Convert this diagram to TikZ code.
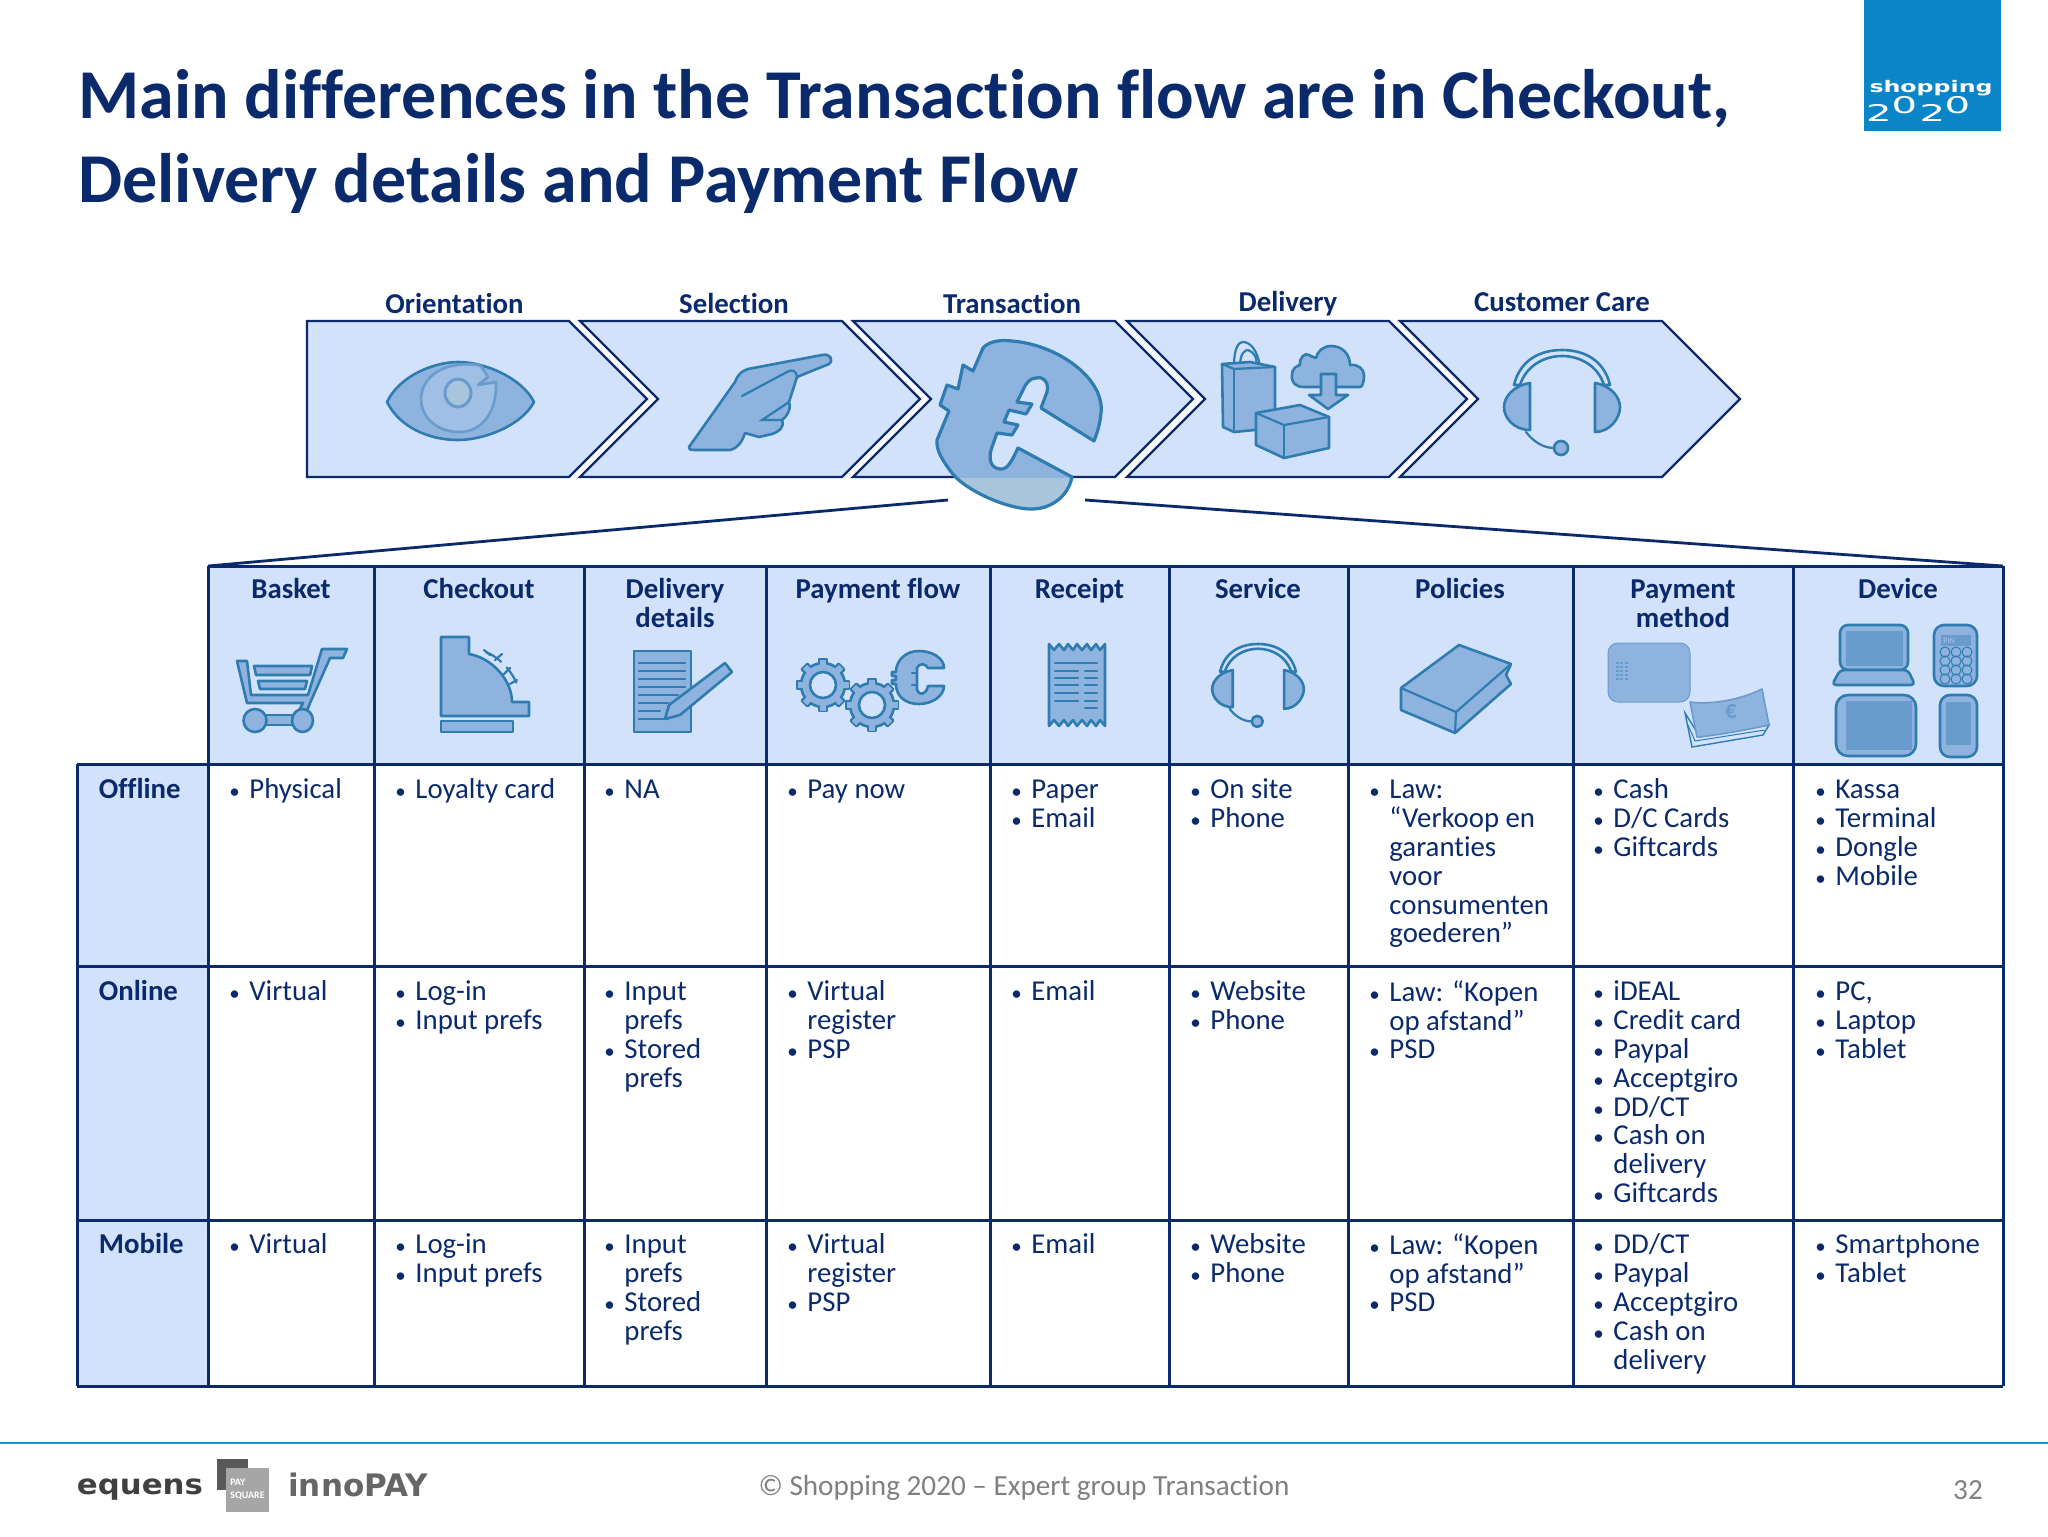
\documentclass[tikz,border=0pt]{standalone}
\usepackage{fontspec}
\setmainfont[Ligatures=NoCommon]{Carlito}
\newfontfamily\logofont{DejaVu Sans}
\definecolor{navy}{HTML}{0B2A6B}
\definecolor{paleblue}{HTML}{D3E2FB}
\definecolor{iconfill}{HTML}{8EB3DE}
\definecolor{iconfillb}{HTML}{A8C5DC}
\definecolor{iconline}{HTML}{2E7CB0}
\definecolor{icondark}{HTML}{6A9BCD}
\definecolor{logoblue}{HTML}{0A86C8}
\definecolor{footline}{HTML}{1F8FD0}
\newcommand\bu{\leavevmode\rule{0pt}{10pt}\llap{{\fontsize{10.5}{10}\selectfont •}\hspace{4.8pt}}}
\newcommand\nb{\rule{0pt}{10pt}}
\tikzset{
 icon/.style={draw=iconline,fill=iconfill,line width=1.3pt,line join=round},
 iconthin/.style={draw=iconline,line width=1.1pt,line cap=round},
 iconsoft/.style={draw=icondark,fill=iconfill,line width=.8pt,line join=round},
 chev/.style={draw=navy,fill=paleblue,line width=1.1pt,line join=miter},
 grid/.style={draw=navy,line width=1.5pt},
 celltext/.style={anchor=north west,inner sep=0pt,align=left,text=navy,font=\fontsize{14.4}{14.45}\selectfont},
 rowlabel/.style={anchor=north west,inner sep=0pt,align=left,text=navy,font=\fontsize{14.4}{14.45}\selectfont\bfseries},
 headtext/.style={anchor=north,inner sep=0pt,align=center,text=navy,font=\fontsize{14.4}{14.45}\selectfont\bfseries},
 steplabel/.style={anchor=base,inner sep=0pt,text=navy,font=\fontsize{14.4}{14.45}\selectfont\bfseries},
 titletext/.style={anchor=base west,inner sep=0pt,text=navy,font=\fontsize{35}{36}\selectfont\bfseries},
}
\newcommand\chevron[1]{\draw[chev] (#1,321) -- ++(262,0) -- ++(78,78) -- ++(-78,78) -- ++(-262,0) -- ++(78,-78) -- cycle;}
\newcommand\bigeuro{(983,348) .. controls (990,340) and (1003,340) .. (1012,341)
 .. controls (1060,345) and (1105,380) .. (1101,413) .. controls (1100,425) and (1097,433) .. (1094,441)
 -- (1041,408) -- (1047,392) .. controls (1050,380) and (1040,376) .. (1036,378) .. controls (1030,378) and (1026,383) .. (1023,390)
 -- (1017,402) -- (1032,404) -- (1026,414) -- (1009,410) -- (1004,422) -- (1018,425) -- (1012,435) -- (997,433) -- (992,447)
 .. controls (988,458) and (990,468) .. (1000,469) .. controls (1008,470) and (1012,460) .. (1018,448)
 -- (1072,477) .. controls (1068,497) and (1050,510) .. (1029,509) .. controls (1005,508) and (965,490) .. (952,473)
 .. controls (942,460) and (936,450) .. (937,440) -- (949,411) -- (940,405) -- (947,385) -- (958,389) -- (963,365) -- (973,371) -- cycle}
\newcommand\headset[3]{\begin{scope}[shift={(#1,#2)},scale=#3]
 \draw[icon,fill=paleblue] (-48,35) .. controls (-42,10) and (-22,0) .. (0,0) .. controls (22,0) and (42,10) .. (48,35)
   -- (42,35) .. controls (36,16) and (18,6) .. (0,6) .. controls (-18,6) and (-36,16) .. (-42,35) -- cycle;
 \draw[icon] (-32,33) .. controls (-50,36) and (-58,48) .. (-58,57) .. controls (-58,68) and (-48,80) .. (-32,80) -- cycle;
 \draw[icon] (33,33) .. controls (50,36) and (58,48) .. (58,57) .. controls (58,68) and (48,82) .. (33,82) -- cycle;
 \draw[iconthin] (-36,82) .. controls (-30,90) and (-20,98) .. (-8,98);
 \draw[icon] (-1,98) ellipse (7 and 7);
\end{scope}}
\newcommand\gearicon[3]{\begin{scope}[shift={(#1,#2)}]
 \foreach \a in {0,45,...,315}{\draw[icon,rotate=\a] (-4,{-#3}) rectangle (4,{-#3+8});}
 \draw[icon] (0,0) circle ({#3-4});
 \foreach \a in {0,45,...,315}{\fill[iconfill,rotate=\a] (-3,{-#3+.5}) rectangle (3,{-#3+9});}
 \draw[icon,fill=paleblue] (0,0) circle ({#3-13});
\end{scope}}
\begin{document}
\begin{tikzpicture}[x=0.5pt,y=-0.5pt]
\useasboundingbox (0,0) rectangle (2048,1536);
% logo
\fill[logoblue] (1864,0) rectangle (2001,131);
\node[inner sep=0pt,text=white,font=\logofont\fontsize{8}{8}\selectfont\bfseries,xscale=1.48] (shop) at (1931,88) {shopping};
\foreach \n/\d/\x/\y in {a/2/1879/112.5,b/0/1904.5/105,c/2/1932.5/112.5,d/0/1957.5/105}{
 \node[inner sep=0pt,text=white,font=\logofont\fontsize{11.5}{11}\selectfont,xscale=1.75] (yr\n) at (\x,\y) {\d};}
% title
\node[titletext] (title1) at (78,118.5) {Main differences in the Transaction flow are in Checkout,};
\node[titletext] (title2) at (78,202) {Delivery details and Payment Flow};
% chevrons
\draw[chev] (307,321) -- (569,321) -- (647,399) -- (569,477) -- (307,477) -- cycle;
\chevron{580}\chevron{853}\chevron{1127}
\draw[chev] (1400,321) -- (1662,321) -- (1740,399) -- (1662,477) -- (1400,477) -- (1478,399) -- cycle;
\node[steplabel] (st1) at (454.5,313) {Orientation};
\node[steplabel] (st2) at (734,313) {Selection};
\node[steplabel] (st3) at (1012,313) {Transaction};
\node[steplabel] (st4) at (1288,311) {Delivery};
\node[steplabel] (st5) at (1562,311) {Customer Care};
% eye
\draw[icon] (387,402) .. controls (400,375) and (435,362) .. (458,362) .. controls (485,362) and (522,378) .. (534,402) .. controls (522,425) and (485,440) .. (458,440) .. controls (430,440) and (400,428) .. (387,402) -- cycle;
\draw[draw=icondark,fill=iconfill!75!paleblue,line width=1.3pt,line join=round] (481,366) .. controls (470,362) and (424,362) .. (421,398) .. controls (421,420) and (440,432) .. (459,432) .. controls (480,432) and (497,415) .. (496,382) -- (478,385) -- (488,377) -- cycle;
\draw[draw=icondark,fill=iconfillb,line width=1.5pt] (458,393) ellipse (13 and 14);
% hand
\draw[icon] (689,447) -- (735,382) .. controls (738,374) and (742,371) .. (748,369) -- (822,355) .. controls (830,353) and (834,360) .. (829,364) -- (797,377)
 -- (789,402) .. controls (792,410) and (785,418) .. (782,420) .. controls (785,428) and (778,432) .. (772,434) -- (759,437) -- (745,433) .. controls (742,442) and (738,448) .. (730,450) -- (695,450) .. controls (690,450) and (688,449) .. (689,447) -- cycle;
\draw[iconthin] (742,396) -- (787,372) .. controls (792,368) and (797,372) .. (797,377);
\draw[iconthin] (789,402) -- (762,420) -- (782,420);
% euro
\fill[iconfill] \bigeuro;
\begin{scope}\clip (900,478) rectangle (1110,520); \fill[iconfillb] \bigeuro; \end{scope}
\draw[iconline,line width=1.6pt,line join=round] \bigeuro;
% delivery icons
\draw[iconthin,fill=none] (1234,366) .. controls (1234,345) and (1240,342) .. (1243,342) .. controls (1250,342) and (1258,350) .. (1260,368);
\draw[iconthin,fill=none] (1240,366) .. controls (1240,352) and (1246,350) .. (1248,350) .. controls (1254,352) and (1258,358) .. (1256,368);
\draw[icon] (1222,364) -- (1250,362) -- (1275,367) -- (1275,428) -- (1234,432) -- (1223,427) -- cycle;
\draw[iconthin] (1222,364) -- (1234,369) -- (1275,367);
\draw[iconthin] (1234,369) -- (1234,432);
\draw[icon] (1304,387) .. controls (1295,387) and (1291,382) .. (1292,375) .. controls (1292,368) and (1297,366) .. (1300,365) .. controls (1299,358) and (1305,352) .. (1309,355) .. controls (1312,356) and (1314,358) .. (1316,358) .. controls (1317,352) and (1323,346) .. (1331,346) .. controls (1342,346) and (1350,354) .. (1350,365) .. controls (1358,364) and (1364,369) .. (1364,375) .. controls (1364,383) and (1362,387) .. (1360,387) -- cycle;
\draw[icon] (1321,374) -- (1336,374) -- (1336,395) -- (1348,395) -- (1328,409) -- (1309,395) -- (1321,395) -- cycle;
\draw[icon] (1256,413) -- (1300,405) -- (1329,417) -- (1329,448) -- (1284,458) -- (1256,445) -- cycle;
\draw[iconthin] (1256,413) -- (1284,425) -- (1329,417);
\draw[iconthin] (1284,425) -- (1284,458);
\headset{1562}{350}{1}
% table fills
\fill[paleblue] (208,566) rectangle (2003,764);
\fill[paleblue] (77,764) rectangle (208,1386);
% fan lines
\coordinate (fanL) at (948,500);
\coordinate (fanR) at (1085,500);
\coordinate (tblL) at (208,566);
\coordinate (tblR) at (2003,566);
\draw[navy,line width=1.4pt] (fanL) -- (tblL);
\draw[navy,line width=1.4pt] (fanR) -- (tblR);
% grid
\draw[grid] (208,566) -- (2003,566);
\draw[grid] (77,764) -- (2003,764);
\draw[grid] (77,966.5) -- (2003,966.5);
\draw[grid] (77,1220) -- (2003,1220);
\draw[grid] (77,1386) -- (2003,1386);
\draw[grid] (77,764) -- (77,1386);
\foreach \x in {208,374,584,766,990,1169,1348,1573,1793,2003}{\draw[grid] (\x,566) -- (\x,1386);}
% headers
\node[headtext] (hBasket) at (291,578) {\nb Basket};
\node[headtext] (hCheckout) at (479,578) {\nb Checkout};
\node[headtext] (hDelivery) at (675,578) {\nb Delivery\\details};
\node[headtext] (hFlow) at (878,578) {\nb Payment flow};
\node[headtext] (hReceipt) at (1079.5,578) {\nb Receipt};
\node[headtext] (hService) at (1258,578) {\nb Service};
\node[headtext] (hPolicies) at (1460,578) {\nb Policies};
\node[headtext] (hMethod) at (1683,578) {\nb Payment\\method};
\node[headtext] (hDevice) at (1898,578) {\nb Device};
% cart
\draw[icon] (237,661) -- (247,661) -- (251,695) -- (308,695) -- (322,649) -- (347,649) -- (343,658) -- (330,658) -- (310,703) -- (305,716) -- (296,716) -- (303,703) -- (247,703) -- cycle;
\draw[icon] (254,666) -- (312,666) -- (310,675) -- (256,675) -- cycle;
\draw[icon] (258,681) -- (307,681) -- (305,689) -- (260,689) -- cycle;
\draw[icon] (266,715) -- (292,715) -- (292,725) -- (266,725) -- cycle;
\draw[icon] (255,720.5) ellipse (11.5 and 11.5);
\draw[icon] (302.5,720.5) ellipse (10.5 and 11.5);
% register
\draw[icon] (441,637) -- (469,637) -- (469,654) .. controls (492,658) and (512,680) .. (512,702) -- (529,702) -- (529,716) -- (441,716) -- cycle;
\draw[icon] (441,721) rectangle (513,732);
\draw[iconthin,dash pattern=on 9pt off 4pt] (486,652) .. controls (498,657) and (510,668) .. (517,684);
\foreach \px/\py/\qx/\qy in {484/650/490/655,495/660/502/654,510/668/504/674,517/680/510/684}{\draw[iconthin] (\px,\py) -- (\qx,\qy);}
% document
\draw[icon] (634,651) rectangle (691,732);
\foreach \y/\w in {663/685,671/685,679/685,687/685,695/678,703/668,711/660,719/668}{\draw[iconthin] (639,\y) -- (\w,\y);}
\draw[icon] (725,663) -- (732,672) -- (680,715) -- (665,719) -- (669,705) -- cycle;
% gears + euro
\gearicon{823}{685}{26}
\gearicon{872}{705}{26}
\draw[icon] (944,668) -- (928,668) .. controls (926,664) and (920,662) .. (917,668) -- (917,690) .. controls (919,696) and (926,695) .. (928,686) -- (944,686) .. controls (944,696) and (932,704) .. (919,704) .. controls (905,704) and (896,696) .. (896,684) -- (892,684) -- (892,680) -- (896,680) -- (896,676) -- (892,676) -- (892,672) -- (896,672) .. controls (896,660) and (906,651) .. (919,651) .. controls (932,651) and (944,658) .. (944,668) -- cycle;
\draw[iconthin] (917,673) -- (912,673) (917,685) -- (912,685);
% receipt
\draw[icon] (1049,644) -- (1054,650) -- (1059,644) -- (1064,650) -- (1068,644) -- (1073,650) -- (1077,644) -- (1082,650) -- (1087,644) -- (1091,650) -- (1096,644) -- (1100,650) -- (1105,644)
 -- (1105,726) -- (1100,720) -- (1096,726) -- (1091,720) -- (1087,726) -- (1082,720) -- (1077,726) -- (1073,720) -- (1068,726) -- (1064,720) -- (1059,726) -- (1054,720) -- (1049,726) -- cycle;
\draw[iconthin] (1055,663) -- (1097,663);
\foreach \y in {671,678,685,693,701}{\draw[iconthin] (1055,\y) -- (1078,\y) (1085,\y) -- (1097,\y);}
\draw[iconthin] (1085,708) -- (1097,708);
% headset
\headset{1258}{644}{0.79}
% book
\draw[icon] (1459,645) -- (1511,664) -- (1506,675) -- (1511,684) -- (1455,733) -- (1401,710) -- (1401,688) -- cycle;
\draw[iconthin] (1401,688) -- (1456,712) -- (1511,664);
\draw[iconthin] (1456,712) -- (1455,733);
% card
\fill[iconfill,rounded corners=5pt] (1608,643) rectangle (1690,702);
\draw[draw=icondark,line width=.5pt,rounded corners=5pt] (1608,643) rectangle (1690,702);
\foreach \py in {663,667,671,675,679}{\draw[icondark,line width=1pt,dash pattern=on 1.5pt off .7pt] (1616,\py) -- (1628,\py);}
% banknote
\draw[draw=iconline,fill=paleblue,line width=.7pt] (1685,713) -- (1692,747) -- (1763,735) -- (1769,725) -- (1700,737) -- cycle;
\draw[draw=iconline,line width=.5pt] (1688,725) -- (1695,741) -- (1765,730);
\draw[iconsoft] (1690,702) .. controls (1710,705) and (1740,700) .. (1762,689) -- (1769,725) .. controls (1745,730) and (1720,735) .. (1697,737) -- cycle;
\node[inner sep=0pt,text=icondark,font=\fontsize{13}{13}\selectfont\bfseries,xscale=.9] (noteE) at (1731,712) {€};
% devices
\draw[icon,fill=iconfill,rounded corners=4pt] (1840,625) rectangle (1908,670);
\fill[icondark] (1846,631) rectangle (1903,666);
\draw[icon,rounded corners=2pt] (1840,670) -- (1908,670) -- (1915,685) -- (1832,685) -- cycle;
\draw[icon,rounded corners=5pt] (1934,625) rectangle (1977,686);
\fill[icondark] (1941,635) rectangle (1971,646);
\node[inner sep=0pt,text=iconfill!60!paleblue,font=\fontsize{4}{4}\selectfont] (pinlabel) at (1949,640.5) {PIN};
\foreach \py in {652,661,670,679}{\foreach \px in {1945,1956,1967}{\draw[draw=iconline,line width=.5pt] (\px,\py) circle (5);}}
\draw[icon,rounded corners=6pt] (1836,695) rectangle (1916,756);
\fill[icondark] (1846,701) rectangle (1912,750);
\draw[icon,rounded corners=5pt] (1940,695) rectangle (1977,757);
\fill[icondark] (1946,702) rectangle (1971,745);
% row labels
\node[rowlabel] (rOff) at (98.5,778) {\nb Offline};
\node[rowlabel] (rOn) at (98.5,980) {\nb Online};
\node[rowlabel] (rMob) at (98.5,1233) {\nb Mobile};
% Offline
\node[celltext] (a1) at (249,778) {\bu Physical};
\node[celltext] (a2) at (415,778) {\bu Loyalty card};
\node[celltext] (a3) at (624,778) {\bu NA};
\node[celltext] (a4) at (807,778) {\bu Pay now};
\node[celltext] (a5) at (1031,778) {\bu Paper\\\bu Email};
\node[celltext] (a6) at (1210,778) {\bu On site\\\bu Phone};
\node[celltext] (a7) at (1389,778) {\bu Law:\\“Verkoop en\\garanties\\voor\\consumenten\\goederen”};
\node[celltext] (a8) at (1613,778) {\bu Cash\\\bu D/C Cards\\\bu Giftcards};
\node[celltext] (a9) at (1835,778) {\bu Kassa\\\bu Terminal\\\bu Dongle\\\bu Mobile};
% Online
\node[celltext] (b1) at (249,980) {\bu Virtual};
\node[celltext] (b2) at (415,980) {\bu Log-in\\\bu Input prefs};
\node[celltext] (b3) at (624,980) {\bu Input\\prefs\\\bu Stored\\prefs};
\node[celltext] (b4) at (807,980) {\bu Virtual\\register\\\bu PSP};
\node[celltext] (b5) at (1031,980) {\bu Email};
\node[celltext] (b6) at (1210,980) {\bu Website\\\bu Phone};
\node[celltext] (b7) at (1389,980) {\bu Law: “Kopen\\op afstand”\\\bu PSD};
\node[celltext] (b8) at (1613,980) {\bu iDEAL\\\bu Credit card\\\bu Paypal\\\bu Acceptgiro\\\bu DD/CT\\\bu Cash on\\delivery\\\bu Giftcards};
\node[celltext] (b9) at (1835,980) {\bu PC,\\\bu Laptop\\\bu Tablet};
% Mobile
\node[celltext] (c1) at (249,1233) {\bu Virtual};
\node[celltext] (c2) at (415,1233) {\bu Log-in\\\bu Input prefs};
\node[celltext] (c3) at (624,1233) {\bu Input\\prefs\\\bu Stored\\prefs};
\node[celltext] (c4) at (807,1233) {\bu Virtual\\register\\\bu PSP};
\node[celltext] (c5) at (1031,1233) {\bu Email};
\node[celltext] (c6) at (1210,1233) {\bu Website\\\bu Phone};
\node[celltext] (c7) at (1389,1233) {\bu Law: “Kopen\\op afstand”\\\bu PSD};
\node[celltext] (c8) at (1613,1233) {\bu DD/CT\\\bu Paypal\\\bu Acceptgiro\\\bu Cash on\\delivery};
\node[celltext] (c9) at (1835,1233) {\bu Smartphone\\\bu Tablet};
% footer
\draw[footline,line width=1pt] (0,1443) -- (2048,1443);
\node[inner sep=0pt,text=black!75,font=\logofont\fontsize{14}{14}\selectfont\bfseries,xscale=1.1] (equens) at (140,1490) {equens};
\fill[black!65] (217,1459) rectangle (248,1490);
\fill[black!35] (226,1468) rectangle (269,1512);
\node[inner sep=0pt,align=left,text=white,font=\fontsize{5}{6.5}\selectfont\bfseries] (paysq) at (247.5,1489) {PAY\\SQUARE};
\node[inner sep=0pt,text=black!60,font=\logofont\fontsize{15.5}{14}\selectfont\bfseries] (innopay) at (358,1485) {innoPAY};
\node[inner sep=0pt,text=black!50,font=\fontsize{14.6}{14}\selectfont] (foot) at (1024,1488) {© Shopping 2020 – Expert group Transaction};
\node[inner sep=0pt,text=black!50,font=\fontsize{14.6}{14}\selectfont] (pageno) at (1968,1490) {32};
\end{tikzpicture}
\end{document}
